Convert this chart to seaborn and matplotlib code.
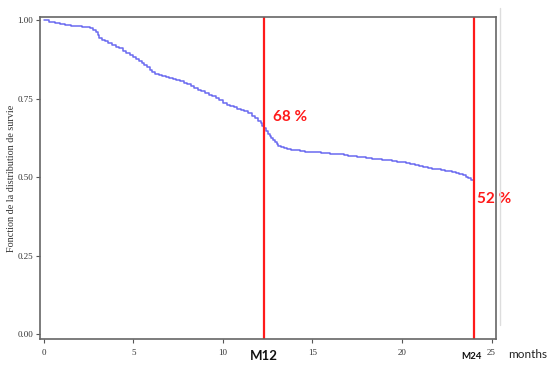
import matplotlib
matplotlib.use("Agg")
import matplotlib.pyplot as plt
import matplotlib.transforms as mtransforms
from matplotlib.lines import Line2D
import seaborn as sns
import pandas as pd

# ---- data ----
months = [0, 0.3, 0.6, 0.9, 1.2, 1.5, 1.8, 2.1, 2.4, 2.6, 2.75, 2.9, 3.0, 3.1, 3.25,
          3.4, 3.6, 3.8, 4.0, 4.2, 4.4, 4.6, 4.8, 5.0, 5.15, 5.3, 5.45, 5.6, 5.75, 5.9,
          6.05, 6.2, 6.4, 6.6, 6.8, 7.0, 7.2, 7.4, 7.6, 7.8, 8.0, 8.2, 8.4, 8.6, 8.8,
          9.0, 9.2, 9.4, 9.6, 9.8, 10.0, 10.2, 10.4, 10.6, 10.8, 11.0, 11.2, 11.4, 11.6,
          11.8, 11.95, 12.1, 12.2, 12.3, 12.4, 12.5, 12.6, 12.7, 12.8, 12.9, 13.0, 13.1,
          13.25, 13.4, 13.6, 13.8, 14.05, 14.3, 14.6, 14.9, 15.2, 15.5, 15.75, 16.0,
          16.25, 16.5, 16.75, 17.0, 17.25, 17.5, 17.75, 18.0, 18.3, 18.6, 18.9, 19.2,
          19.45, 19.7, 19.95, 20.2, 20.45, 20.7, 20.95, 21.2, 21.45, 21.7, 21.95, 22.2,
          22.4, 22.6, 22.8, 23.0, 23.2, 23.4, 23.55, 23.7, 23.85, 24.0]
survival = [1.00, 0.995, 0.99, 0.987, 0.985, 0.982, 0.98, 0.979, 0.977, 0.974, 0.97,
            0.962, 0.952, 0.942, 0.936, 0.932, 0.927, 0.922, 0.916, 0.91, 0.903, 0.896,
            0.888, 0.881, 0.876, 0.87, 0.864, 0.858, 0.85, 0.842, 0.835, 0.829, 0.825,
            0.822, 0.818, 0.815, 0.812, 0.809, 0.805, 0.8, 0.795, 0.79, 0.784, 0.778,
            0.773, 0.768, 0.763, 0.757, 0.751, 0.744, 0.737, 0.73, 0.726, 0.722, 0.718,
            0.714, 0.709, 0.703, 0.696, 0.688, 0.68, 0.672, 0.664, 0.655, 0.646, 0.638,
            0.631, 0.625, 0.618, 0.612, 0.606, 0.600, 0.596, 0.592, 0.589, 0.587,
            0.585, 0.583, 0.581, 0.580, 0.579, 0.578, 0.577, 0.575, 0.574, 0.572,
            0.570, 0.568, 0.567, 0.565, 0.563, 0.560, 0.558, 0.556, 0.555, 0.553,
            0.551, 0.549, 0.547, 0.544, 0.541, 0.538, 0.535, 0.532, 0.53, 0.527, 0.525,
            0.522, 0.52, 0.518, 0.515, 0.512, 0.509, 0.505, 0.501, 0.497, 0.492, 0.485]
marks = [12.3, 24.0]
mark_labels = ["M12", "M24"]
pct_labels = ["68 %", "52 %"]
pct_y = [0.691, 0.43]
x_ticks = [0, 5, 10, 15, 20, 25]
y_ticks = [0.00, 0.25, 0.50, 0.75, 1.00]
y_tick_labels = ["0.00", "0.25", "0.50", "0.75", "1.00"]

df = pd.DataFrame({"months": months, "survival": survival})

sns.set_theme(style="white")
plt.rcParams["font.family"] = ["Liberation Serif", "DejaVu Serif"]

fig = plt.figure(figsize=(5.5, 3.72), dpi=100)
ax = fig.add_axes([40 / 550, 1 - 339 / 372, 456 / 550, 322 / 372])

sns.lineplot(data=df, x="months", y="survival", ax=ax, color="#6a6af0",
             linewidth=1.1, drawstyle="steps-post")

for m in marks:
    ax.axvline(m, color="#ff1a1a", linewidth=1.6)

ax.set_xlim(-0.22, 25.25)
ax.set_ylim(-0.016, 1.01)
ax.set_xticks(x_ticks)
ax.set_xticklabels([str(t) for t in x_ticks])
ax.set_yticks(y_ticks)
ax.set_yticklabels(y_tick_labels)
ax.tick_params(axis="both", labelsize=6.5, length=3, width=0.8, colors="#555555",
               labelcolor="#333333", direction="out", pad=2)
ax.tick_params(axis="x", pad=4)
ax.tick_params(left=True, bottom=True)
ax.set_xlabel("")
ax.set_ylabel("Fonction de la distribution de survie", fontsize=7.3, color="#333333",
              labelpad=1)
for s in ax.spines.values():
    s.set_color("#666666")
    s.set_linewidth(1.2)

bold = ["Lato", "DejaVu Sans"]
for m, lab, yy in zip(marks, pct_labels, pct_y):
    ax.text(m + 0.5 if m < 20 else m + 0.2, yy, lab, color="#ff1a1a", fontsize=11,
            fontweight="bold", family=bold, va="center", ha="left", clip_on=False)

trans = mtransforms.blended_transform_factory(ax.transData, ax.transAxes)
ax.text(marks[0], -0.053, mark_labels[0], transform=trans, ha="center", va="center",
        fontsize=9.5, fontweight="bold", family=bold, color="#111111")
ax.text(marks[1] - 0.1, -0.053, mark_labels[1], transform=trans, ha="center", va="center",
        fontsize=7, fontweight="bold", family=bold, color="#111111")
fig.text(508 / 550, 1 - 354 / 372, "months", fontsize=8.5, family=["Lato", "DejaVu Sans"],
         color="#222222", ha="left", va="center")

fig.add_artist(Line2D([500 / 550, 500 / 550], [1 - 8 / 372, 1 - 325 / 372],
                      transform=fig.transFigure, color="#dddddd", linewidth=1))

fig.savefig("out.png", dpi=100)
